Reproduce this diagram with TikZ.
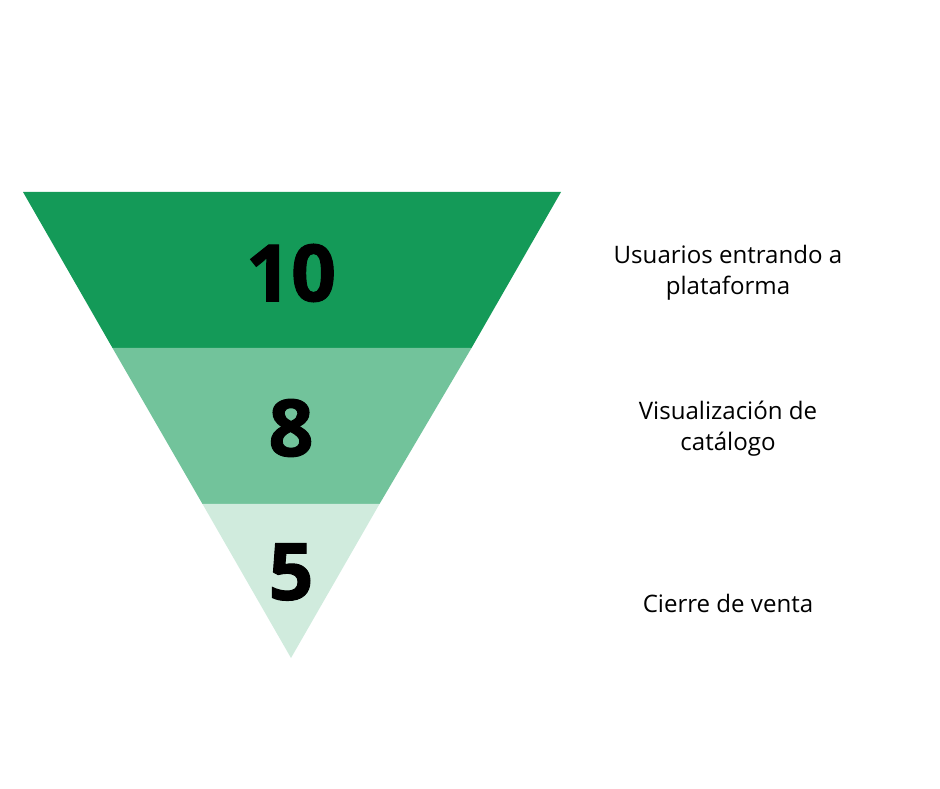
\documentclass[tikz,border=0pt]{standalone}
\usepackage{fontspec}
\setmainfont{Open Sans}
\newfontfamily\heavyfont{Open Sans}[BoldFeatures={FakeBold=1.2}]
\usepackage{tikz}
\usetikzlibrary{positioning}

\definecolor{stageone}{HTML}{149A58}
\definecolor{stagetwo}{HTML}{72C39B}
\definecolor{stagethree}{HTML}{D0EBDD}

\tikzset{
	count/.style={font=\heavyfont\fontsize{45}{50}\selectfont\bfseries, text=black},
	stagelabel/.style={font=\fontsize{13.7}{17.6}\selectfont, align=center, text=black}
}

\begin{document}
\begin{tikzpicture}
			\useasboundingbox (0, 0) rectangle (18.8, 15.76);
			\coordinate (topleft) at (0.46, 11.92);
			\coordinate (topright) at (11.22, 11.92);
			\coordinate (midleft) at (2.25, 8.80);
			\coordinate (midright) at (9.43, 8.80);
			\coordinate (lowleft) at (4.05, 5.68);
			\coordinate (lowright) at (7.59, 5.68);
			\coordinate (apex) at (5.82, 2.60);
			\fill[stageone] (topleft) -- (topright) -- (midright) -- (midleft) -- cycle;
			\fill[stagetwo] (midleft) -- (midright) -- (lowright) -- (lowleft) -- cycle;
			\fill[stagethree] (lowleft) -- (lowright) -- (apex) -- cycle;
			\node[count] (ten) at (5.82, 10.30) {10};
			\node[count] (eight) at (5.82, 7.20) {8};
			\node[count] (five) at (5.82, 4.32) {5};
			\node[stagelabel] (users) at (14.56, 10.30) {Usuarios entrando a\\plataforma};
			\node[stagelabel] (catalog) at (14.56, 7.18) {Visualización de\\catálogo};
			\node[stagelabel] (sale) at (14.56, 3.70) {Cierre de venta};
		\end{tikzpicture}
\end{document}
